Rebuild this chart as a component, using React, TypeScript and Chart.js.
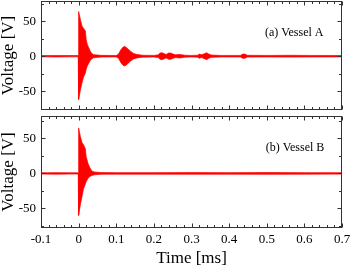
import React, { useEffect, useRef } from "react";
import { Chart, registerables } from "chart.js";

Chart.register(...registerables);

// Vessel A
const timeA = [
  -0.1, -0.06, -0.02, -0.001, 0.0, 0.0045, 0.009, 0.013, 0.018, 0.02, 0.023, 0.027, 0.031,
  0.035, 0.04, 0.06, 0.1, 0.106, 0.112, 0.118, 0.123, 0.13, 0.138, 0.146, 0.155, 0.17,
  0.2, 0.212, 0.216, 0.222, 0.228, 0.233, 0.239, 0.245, 0.251, 0.258, 0.268, 0.274,
  0.282, 0.3, 0.316, 0.321, 0.327, 0.334, 0.34, 0.346, 0.353, 0.38, 0.43, 0.436, 0.442,
  0.448, 0.5, 0.56, 0.62, 0.7,
];
const upperA = [
  0.9, 1.1, 0.9, 0.9, 64, 53, 43, 40, 36, 24, 17, 12, 7,
  4, 2.2, 1.2, 1.0, 3, 9, 13, 14, 11, 7, 4, 2.5, 1.4,
  1.1, 2, 4.5, 5, 3.5, 2.5, 4.5, 4.5, 3, 2, 2.6, 2.2,
  1.4, 1.1, 1.4, 3, 2, 3.5, 5, 3, 1.6, 1.1, 1.1, 3, 3,
  1.3, 1.1, 1.3, 1.1, 1.0,
];
const lowerA = [
  -0.9, -1.1, -0.9, -0.9, -62, -49, -38, -30, -24, -19, -14, -10, -6,
  -4, -2.2, -1.2, -1.0, -3, -9, -13, -14, -11, -7, -4, -2.5, -1.4,
  -1.1, -2, -4.5, -5, -3.5, -2.5, -4.5, -4.5, -3, -2, -2.6, -2.2,
  -1.4, -1.1, -1.4, -3, -2, -3.5, -5, -3, -1.6, -1.1, -1.1, -3, -3,
  -1.3, -1.1, -1.3, -1.1, -1.0,
];

// Vessel B
const timeB = [
  -0.1, -0.06, -0.02, -0.001, 0.0, 0.0045, 0.009, 0.013, 0.018, 0.02, 0.025, 0.03,
  0.035, 0.042, 0.06, 0.1, 0.2, 0.3, 0.4, 0.5, 0.6, 0.7,
];
const upperB = [
  0.9, 1.1, 0.9, 0.9, 65, 53, 44, 41, 35, 24, 14, 8,
  3.5, 2, 1.2, 1.1, 1.1, 1.2, 1.1, 1.3, 1.1, 1.0,
];
const lowerB = [
  -0.9, -1.1, -0.9, -0.9, -60, -45, -33, -22, -15, -12, -7, -4.5,
  -3, -2, -1.2, -1.1, -1.1, -1.2, -1.1, -1.3, -1.1, -1.0,
];

// ---- Axes ----
const xTicks = [-0.1, 0, 0.1, 0.2, 0.3, 0.4, 0.5, 0.6, 0.7];
const xTickLabels = ["-0.1", "0", "0.1", "0.2", "0.3", "0.4", "0.5", "0.6", "0.7"];
const yTicks = [-50, 0, 50];
const yTickLabels = ["-50", "0", "50"];
const xMinorStep = 0.02;
const yMinorStep = 25;

const panelLabels = ["(a) Vessel A", "(b) Vessel B"];
const panelLabelX = [0.573, 0.575];
const panelLabelY = [33, 36];

const FONT = "'Liberation Serif', 'Times New Roman', serif";
const RED = "#ff0000";
const FRAME = "#333333";

const framePlugin = {
  id: "frameTicks",
  afterDatasetsDraw(chart: any, _args: any, opts: any) {
    const { ctx, chartArea: a, scales } = chart;
    const xs = scales.x;
    const ys = scales.y;
    ctx.save();
    ctx.strokeStyle = FRAME;
    ctx.lineWidth = 1;
    const L = Math.round(a.left) + 0.5;
    const R = Math.round(a.right) - 0.5;
    const T = Math.round(a.top) + 0.5;
    const B = Math.round(a.bottom) - 0.5;
    ctx.strokeRect(L, T, R - L, B - T);
    ctx.beginPath();
    const nx = Math.round((xs.max - xs.min) / xMinorStep);
    for (let i = 0; i <= nx; i++) {
      const v = xs.min + i * xMinorStep;
      const len = i % 5 === 0 ? 4 : 2.5;
      const px = Math.round(xs.getPixelForValue(v)) + 0.5;
      ctx.moveTo(px, B);
      ctx.lineTo(px, B - len);
      ctx.moveTo(px, T);
      ctx.lineTo(px, T + len);
    }
    for (let v = -75; v <= 75; v += yMinorStep) {
      if (v < ys.min || v > ys.max) continue;
      const len = v % 50 === 0 ? 4 : 2.5;
      const py = Math.round(ys.getPixelForValue(v)) + 0.5;
      ctx.moveTo(L, py);
      ctx.lineTo(L + len, py);
      ctx.moveTo(R, py);
      ctx.lineTo(R - len, py);
    }
    ctx.stroke();
    if (opts && opts.text) {
      ctx.fillStyle = "#000";
      ctx.font = `12px ${FONT}`;
      ctx.textAlign = "center";
      ctx.textBaseline = "middle";
      ctx.fillText(opts.text, xs.getPixelForValue(opts.x), ys.getPixelForValue(opts.y));
    }
    ctx.restore();
  },
};

function makeConfig(
  time: number[],
  upper: number[],
  lower: number[],
  yMin: number,
  yMax: number,
  showX: boolean,
  idx: number
): any {
  return {
    type: "line",
    data: {
      datasets: [
        {
          data: time.map((t, i) => ({ x: t, y: upper[i] })),
          borderColor: RED,
          backgroundColor: RED,
          borderWidth: 0.7,
          pointRadius: 0,
          tension: 0,
          fill: "+1",
        },
        {
          data: time.map((t, i) => ({ x: t, y: lower[i] })),
          borderColor: RED,
          backgroundColor: RED,
          borderWidth: 0.7,
          pointRadius: 0,
          tension: 0,
          fill: false,
        },
      ],
    },
    options: {
      responsive: false,
      animation: false,
      events: [],
      layout: { padding: { left: 0, right: 8, top: showX ? 2 : 1, bottom: showX ? 0 : 2 } },
      plugins: {
        legend: { display: false },
        tooltip: { enabled: false },
        frameTicks: {
          text: panelLabels[idx],
          x: panelLabelX[idx],
          y: panelLabelY[idx],
        },
      },
      scales: {
        x: {
          type: "linear",
          min: -0.1,
          max: 0.7,
          display: showX,
          grid: { display: false, drawTicks: false },
          border: { display: false },
          afterBuildTicks: (s: any) => {
            s.ticks = xTicks.map((v) => ({ value: v }));
          },
          ticks: {
            callback: (_v: any, i: number) => xTickLabels[i],
            font: { family: FONT, size: 13 },
            color: "#000",
            padding: 4,
            maxRotation: 0,
            autoSkip: false,
          },
          title: {
            display: true,
            text: "Time [ms]",
            font: { family: FONT, size: 17, lineHeight: 1 },
            color: "#000",
            padding: 0,
          },
          afterFit: (s: any) => {
            s.height = showX ? 39 : 0;
            s.paddingLeft = 0;
            s.paddingRight = 0;
            s.paddingTop = 0;
            s.paddingBottom = 0;
          },
        },
        y: {
          type: "linear",
          min: yMin,
          max: yMax,
          grid: { display: false, drawTicks: false },
          border: { display: false },
          afterBuildTicks: (s: any) => {
            s.ticks = yTicks.map((v) => ({ value: v }));
          },
          ticks: {
            callback: (_v: any, i: number) => yTickLabels[i],
            font: { family: FONT, size: 13 },
            color: "#000",
            padding: 5,
          },
          title: {
            display: true,
            text: "Voltage [V]",
            font: { family: FONT, size: 17, lineHeight: 1 },
            color: "#000",
            padding: 0,
          },
          afterFit: (s: any) => {
            s.width = 41;
            s.paddingTop = 0;
            s.paddingBottom = 0;
            s.paddingLeft = 0;
            s.paddingRight = 0;
          },
        },
      },
    },
    plugins: [framePlugin],
  };
}

export default function App() {
  const refA = useRef<HTMLCanvasElement | null>(null);
  const refB = useRef<HTMLCanvasElement | null>(null);

  useEffect(() => {
    const cA = new Chart(refA.current as HTMLCanvasElement, makeConfig(timeA, upperA, lowerA, -77, 79, false, 0));
    const cB = new Chart(refB.current as HTMLCanvasElement, makeConfig(timeB, upperB, lowerB, -78, 82, true, 1));
    return () => {
      cA.destroy();
      cB.destroy();
    };
  }, []);

  return (
    <div style={{ position: "fixed", left: 0, top: 0, width: 350, height: 267, background: "#fff" }}>
      <canvas ref={refA} width={350} height={112} style={{ position: "absolute", left: 0, top: 0, width: 350, height: 112 }} />
      <canvas ref={refB} width={350} height={153} style={{ position: "absolute", left: 0, top: 114, width: 350, height: 153 }} />
    </div>
  );
}
